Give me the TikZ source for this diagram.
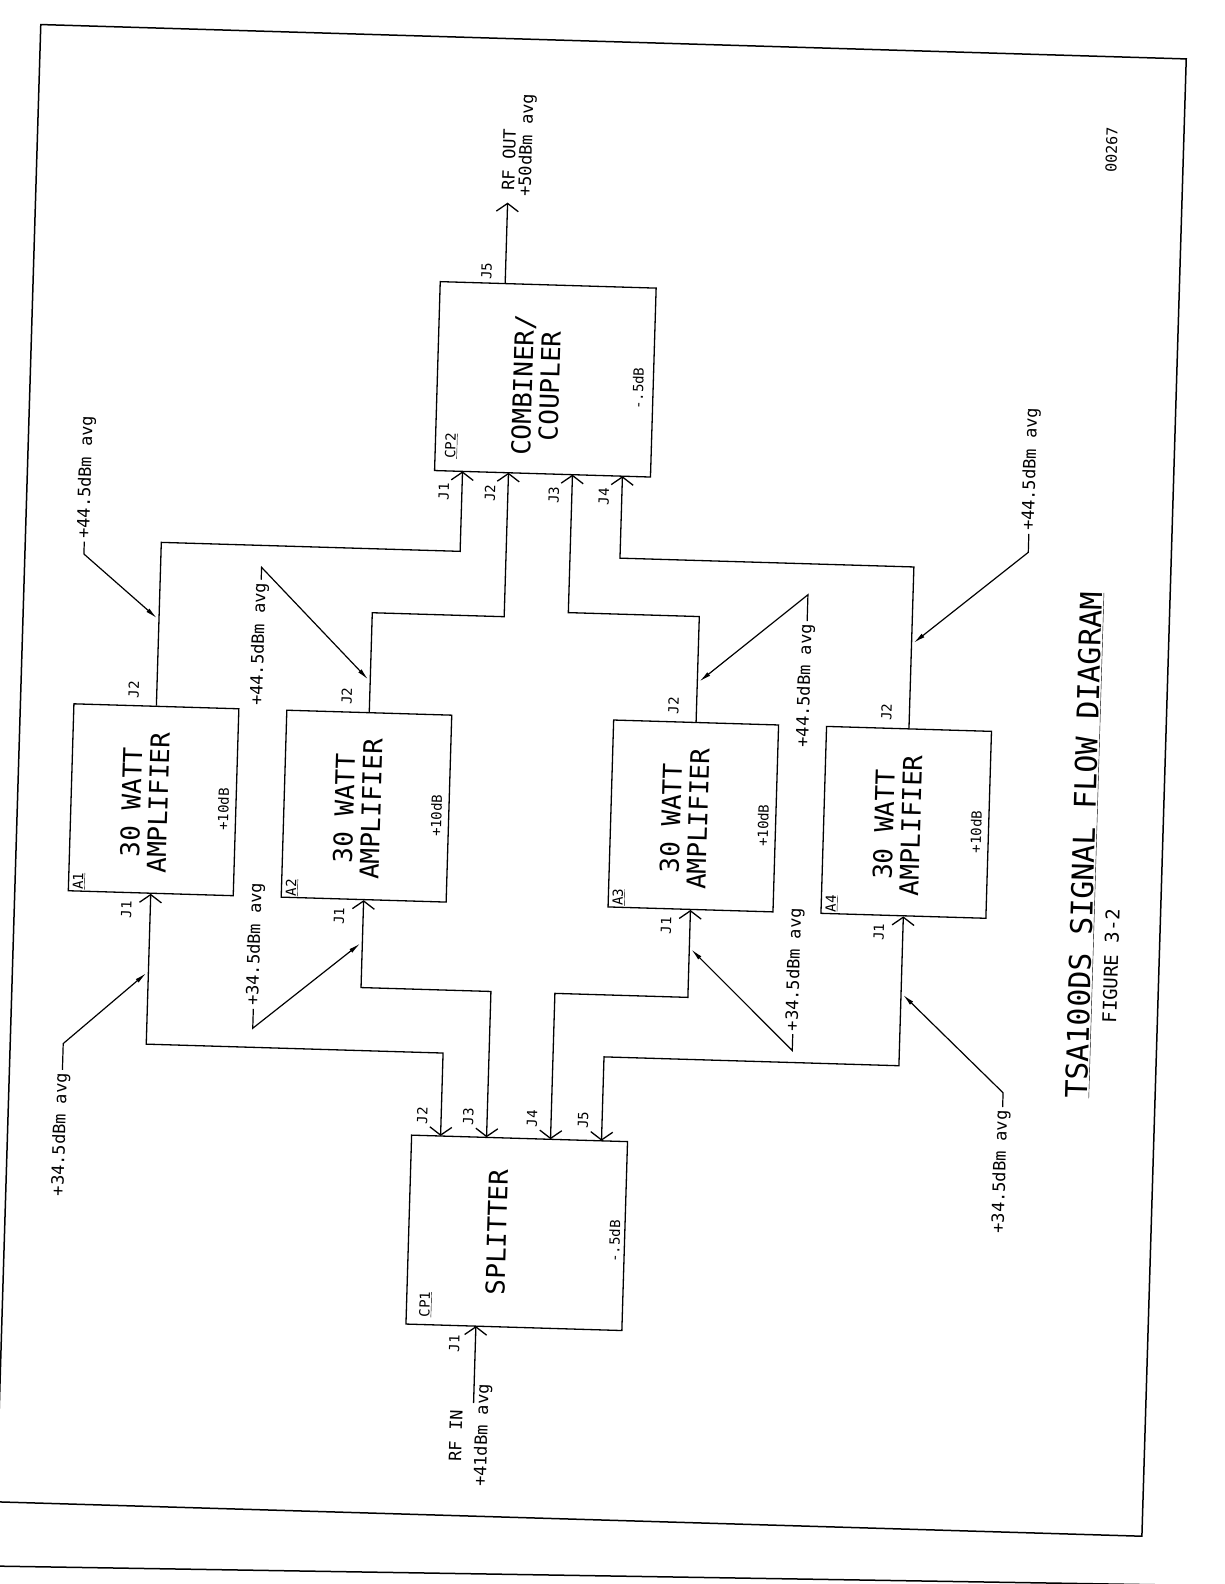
\documentclass[tikz,border=0pt]{standalone}
\usepackage{fontspec}
\newfontfamily\cad{DejaVu Sans Mono}
\usetikzlibrary{arrows.meta}
\begin{document}
\begin{tikzpicture}[x=1pt,y=-1pt,
  >={Straight Barb[length=8pt,width=22pt]},
  frame/.style={line width=1.5pt},
  wire/.style={line width=1.3pt},
  blk/.style={draw,line width=1.3pt,inner sep=0pt},
  amp/.style={blk,minimum width=165pt,minimum height=187pt},
  cpl/.style={blk,minimum width=216pt,minimum height=189pt},
  lead/.style={line width=1.2pt,-{Latex[length=12pt,width=4.5pt]}},
  lbl/.style={rotate=90,inner sep=3pt,font=\cad\fontsize{17}{17}\selectfont},
  sml/.style={rotate=90,inner sep=1pt,font=\cad\fontsize{14}{14}\selectfont},
  big/.style={rotate=90,inner sep=1pt,align=center,font=\cad\fontsize{26}{27}\selectfont}]
\useasboundingbox (0,0) rectangle (1224,1584);
\clip (0,0) rectangle (1224,1584);
% lower page edge
\draw[frame] (-10,1566) -- (1234,1586);
\begin{scope}[rotate around={-1.72:(612,792)},every node/.append style={transform shape}]
% page frame
\draw[frame] (18,42) rectangle (1164,1520);
% blocks
\node[amp] (a1) at (154,813.5) {};
\node[amp] (a2) at (367,813.5) {};
\node[amp] (a3) at (694,813.5) {};
\node[amp] (a4) at (907,813.5) {};
\node[cpl] (cp2) at (533,381.5) {};
\node[cpl] (cp1) at (530,1235.5) {};
% block texts
\foreach \n/\c in {1/154,2/367,3/694,4/907}{
  \node[big] (a\n t) at (\c-9,816.5) {30 WATT\\AMPLIFIER};
  \node[sml] (a\n g) at (\c+70,821) {+10dB};
  \node[sml] (a\n n) at (\c-72,897) {\underline{A\n}};
  \node[sml] (a\n jo) at (\c-23,704) {J2};
  \node[sml] (a\n ji) at (\c-24,924) {J1};
}
\node[big] (cp2t) at (524,388) {COMBINER/\\COUPLER};
\node[sml] (cp2g) at (626,388) {-.5dB};
\node[sml] (cp2n) at (441,451) {\underline{CP2}};
\node[big] (cp1t) at (510,1235.5) {SPLITTER};
\node[sml] (cp1g) at (628,1241) {-.5dB};
\node[sml] (cp1n) at (441,1310) {\underline{CP1}};
% ports
\coordinate (c2j1) at (453,476);
\coordinate (c2j2) at (499,476);
\coordinate (c2j3) at (563,476);
\coordinate (c2j4) at (613,476);
\coordinate (c2j5) at (490,287);
\coordinate (c1j2) at (451,1141);
\coordinate (c1j3) at (497,1141);
\coordinate (c1j4) at (561,1141);
\coordinate (c1j5) at (612,1141);
\coordinate (c1j1) at (492,1330);
\coordinate (rfout) at (490,206);
\coordinate (rfin) at (492,1407);
\foreach \j/\u in {1/453,2/499,3/563,4/613}{\node[sml] (c2l\j) at (\u-18,497) {J\j};}
\node[sml] (c2l5) at (471,275) {J5};
\foreach \j/\u in {2/451,3/497,4/561,5/612}{\node[sml] (c1l\j) at (\u-19,1121) {J\j};}
\node[sml] (c1l1) at (471,1348) {J1};
% wires
\draw[wire,->] (a1.north) -- (154,556) -| (c2j1);
\draw[wire,->] (a2.north) -- (367,620) -| (c2j2);
\draw[wire,->] (a3.north) -- (694,614) -| (c2j3);
\draw[wire,->] (a4.north) -- (907,558) -| (c2j4);
\draw[wire,->] (c2j5) -- (rfout);
\draw[wire,<->] (a1.south) -- (154,1058) -| (c1j2);
\draw[wire,<->] (a2.south) -- (367,995) -| (c1j3);
\draw[wire,<->] (a3.south) -- (694,995) -| (c1j4);
\draw[wire,<->] (a4.south) -- (907,1057) -| (c1j5);
\draw[wire,->] (rfin) -- (c1j1);
% RF labels
\node[lbl] (rfo1) at (490,163) {RF OUT};
\node[lbl] (rfo2) at (508,148) {+50dBm avg};
\node[lbl] (rfi1) at (475,1440) {RF IN};
\node[lbl] (rfi2) at (502,1439) {+41dBm avg};
% level annotations
\node[lbl] (l1) at (77,493) {+44.5dBm avg};
\node[lbl] (l2) at (255,655) {+44.5dBm avg};
\node[lbl] (l3) at (802,680) {+44.5dBm avg};
\node[lbl] (l4) at (1021,457) {+44.5dBm avg};
\node[lbl] (l5) at (260,955) {+34.5dBm avg};
\node[lbl] (l6) at (800,964) {+34.5dBm avg};
\node[lbl] (l7) at (71,1151) {+34.5dBm avg};
\node[lbl] (l8) at (1012,1160) {+34.5dBm avg};
\coordinate (k1) at (77,570);   \coordinate (t1) at (152,632);
\coordinate (k2) at (255,578);  \coordinate (t2) at (365,687);
\coordinate (k3) at (802,589);  \coordinate (t3) at (696,679);
\coordinate (k4) at (1021,540); \coordinate (t4) at (909,634);
\coordinate (k5) at (260,1039); \coordinate (t5) at (365,951);
\coordinate (k6) at (800,1045); \coordinate (t6) at (696,947);
\coordinate (k7) at (71,1060);  \coordinate (t7) at (152,987);
\coordinate (k8) at (1012,1081);\coordinate (t8) at (909,986);
\draw[lead] (l1.west) -- (k1) -- (t1);
\draw[lead] (l2.east) -- (k2) -- (t2);
\draw[lead] (l3.east) -- (k3) -- (t3);
\draw[lead] (l4.west) -- (k4) -- (t4);
\draw[lead] (l5.west) -- (k5) -- (t5);
\draw[lead] (l6.west) -- (k6) -- (t6);
\draw[lead] (l7.east) -- (k7) -- (t7);
\draw[lead] (l8.east) -- (k8) -- (t8);
% title
\node[rotate=90,inner sep=1pt,font=\cad\fontsize{30}{30}\selectfont] (title) at (1086,831) {\underline{TSA100DS SIGNAL FLOW DIAGRAM}};
\node[rotate=90,inner sep=1pt,font=\cad\fontsize{19}{19}\selectfont] (fig) at (1116,951) {FIGURE 3-2};
\node[rotate=90,inner sep=1pt,font=\cad\fontsize{15}{15}\selectfont] (num) at (1092,135) {00267};
\end{scope}
\end{tikzpicture}
\end{document}
